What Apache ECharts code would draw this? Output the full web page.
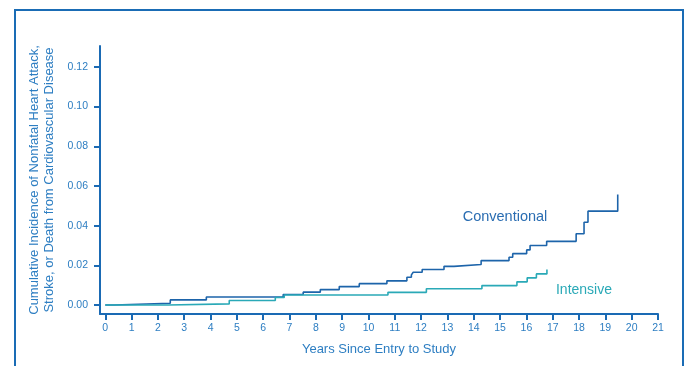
<!DOCTYPE html>
<html>
<head>
<meta charset="utf-8">
<script src="https://cdn.jsdelivr.net/npm/echarts@6/dist/echarts.min.js"></script>
<style>html,body{margin:0;padding:0;background:#fff}#c{width:685px;height:366px}</style>
</head>
<body>
<div id="c"></div>
<script>
// Data (years since entry, cumulative incidence)
var convYears = [0, 0.34, 2.47, 3.84, 6.76, 7.52, 8.17, 8.89, 9.65, 10.70, 11.46, 11.63, 11.70, 12.04, 12.87, 13.25, 14.28, 15.34, 15.48, 16.01, 16.14, 16.77, 17.89, 18.19, 18.34, 19.47];
var convValues = [0, 0.0009, 0.0026, 0.0041, 0.0053, 0.0065, 0.0078, 0.0093, 0.0108, 0.0122, 0.0140, 0.0152, 0.0165, 0.0179, 0.0195, 0.0204, 0.0224, 0.0241, 0.0259, 0.0278, 0.0300, 0.0321, 0.0359, 0.0417, 0.0473, 0.0557];
var intYears = [0, 2.39, 4.71, 6.46, 6.80, 10.74, 12.20, 14.31, 15.64, 16.03, 16.38, 16.78];
var intValues = [0, 0.0006, 0.0023, 0.0038, 0.0051, 0.0064, 0.0082, 0.0098, 0.0117, 0.0137, 0.0157, 0.0179];
var xTicks = [0,1,2,3,4,5,6,7,8,9,10,11,12,13,14,15,16,17,18,19,20,21];
var yTicks = [0, 0.02, 0.04, 0.06, 0.08, 0.10, 0.12];
var seriesNames = ['Conventional', 'Intensive'];

function zip(a, b) { return a.map(function (v, i) { return [v, b[i]]; }); }

var axisColor = '#1a6ab4';
var labelColor = '#2d7ec2';
var font = '"Liberation Sans", Arial, sans-serif';

var chart = echarts.init(document.getElementById('c'));
chart.setOption({
  animation: false,
  backgroundColor: '#fff',
  grid: { left: 100, right: 27, top: 46, bottom: 52 },
  xAxis: {
    type: 'value', min: -0.2, max: 21,
    name: 'Years Since Entry to Study', nameLocation: 'middle', nameGap: 29,
    nameTextStyle: { color: labelColor, fontSize: 13, fontFamily: font },
    axisLine: { show: true, onZero: false, lineStyle: { color: axisColor, width: 2 } },
    axisTick: { show: true, customValues: xTicks, length: 6, lineStyle: { color: axisColor, width: 2 } },
    axisLabel: { customValues: xTicks, color: labelColor, fontSize: 10.5, fontFamily: font, margin: 9 },
    splitLine: { show: false }
  },
  yAxis: {
    type: 'value', min: -0.0045, max: 0.1305,
    name: 'Cumulative Incidence of Nonfatal Heart Attack,\nStroke, or Death from Cardiovascular Disease',
    nameLocation: 'middle', nameGap: 41, nameRotate: 90,
    nameTextStyle: { color: labelColor, fontSize: 13, fontFamily: font, lineHeight: 15 },
    axisLine: { show: true, onZero: false, lineStyle: { color: axisColor, width: 2 } },
    axisTick: { show: true, customValues: yTicks, length: 6, lineStyle: { color: axisColor, width: 2 } },
    axisLabel: { customValues: yTicks, color: labelColor, fontSize: 10.5, fontFamily: font, margin: 12,
      formatter: function (v) { return v.toFixed(2); } },
    splitLine: { show: false }
  },
  series: [
    { name: seriesNames[0], type: 'line', step: 'end', symbol: 'none',
      lineStyle: { color: '#1d64aa', width: 1.6 }, data: zip(convYears, convValues) },
    { name: seriesNames[1], type: 'line', step: 'end', symbol: 'none',
      lineStyle: { color: '#2aa9b7', width: 1.6 }, data: zip(intYears, intValues) }
  ],
  graphic: [
    { type: 'rect', shape: { x: 15, y: 10, width: 668, height: 400 },
      style: { fill: 'none', stroke: '#1a6cb5', lineWidth: 2 }, silent: true },
    { type: 'text', x: 505, y: 217, style: { text: seriesNames[0], fill: '#2a6db2', font: '14.5px ' + font, align: 'center', verticalAlign: 'middle' } },
    { type: 'text', x: 584, y: 290, style: { text: seriesNames[1], fill: '#2aa9b7', font: '14px ' + font, align: 'center', verticalAlign: 'middle' } }
  ]
});
</script>
</body>
</html>
